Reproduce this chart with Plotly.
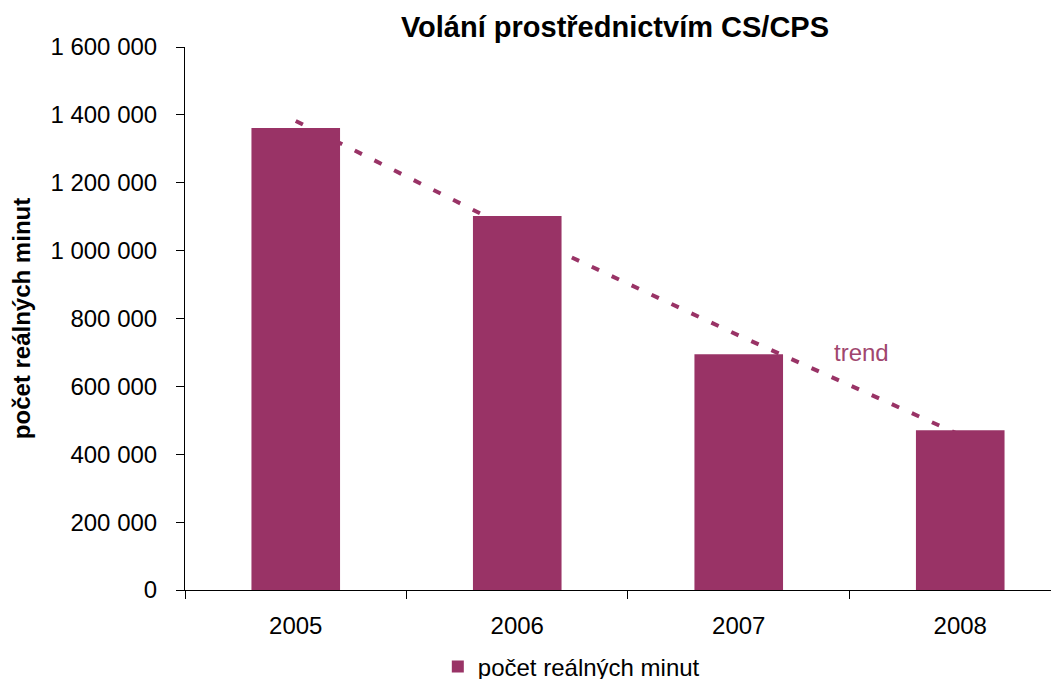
import plotly.graph_objects as go

years = ["2005", "2006", "2007", "2008"]
minutes = [1361000, 1102000, 695000, 471000]
trend = [1382000, 1055000, 750000, 457000]
series_name = "počet reálných minut"
title_text = "Volání prostřednictvím CS/CPS"
y_title = "počet reálných minut"
y_ticks = [0, 200000, 400000, 600000, 800000, 1000000, 1200000, 1400000, 1600000]

bar_color = "#993366"
font_family = "Liberation Sans, Arial, sans-serif"

fig = go.Figure()

# trend line on base axes (drawn beneath the bars)
fig.add_trace(go.Scatter(
    x=years, y=trend, mode="lines", xaxis="x", yaxis="y",
    line=dict(color=bar_color, width=4, dash="8px,14px"),
    showlegend=False, hoverinfo="skip",
))

# bars on overlaying axes so they sit on top of the trend
fig.add_trace(go.Bar(
    x=years, y=minutes, name=series_name, xaxis="x2", yaxis="y2",
    marker=dict(color=bar_color, line=dict(width=0)), width=0.4,
))

xr = [-0.5, 3.482]
yr = [0, 1600000]

fig.update_layout(
    width=1059, height=679,
    margin=dict(l=177, r=0, t=39, b=97, autoexpand=False),
    paper_bgcolor="white", plot_bgcolor="rgba(0,0,0,0)",
    separators=", ",
    font=dict(family=font_family, size=24, color="black"),
    title=dict(text="<b>" + title_text + "</b>", x=0.4875, xref="paper", xanchor="center",
               y=0.972, yref="container", yanchor="middle",
               font=dict(size=29, color="black")),
    xaxis=dict(type="category", range=xr, showline=True, linecolor="black", linewidth=1,
               ticks="outside", tickson="boundaries", ticklen=8, tickcolor="black",
               showgrid=False, zeroline=False, tickfont=dict(size=24), ticklabelstandoff=14),
    yaxis=dict(range=yr, tickvals=y_ticks, tickformat=",d", showline=True, linecolor="black",
               linewidth=1, ticks="outside", ticklen=8, tickcolor="black", showgrid=False,
               zeroline=False, tickfont=dict(size=24), ticklabelstandoff=14,
               title=dict(text="<b>" + y_title + "</b>", font=dict(size=24), standoff=14)),
    xaxis2=dict(type="category", range=xr, overlaying="x", visible=False, matches="x"),
    yaxis2=dict(range=yr, overlaying="y", visible=False, matches="y"),
    legend=dict(orientation="h", x=0.438, xanchor="center", y=-0.1418, yanchor="middle",
                font=dict(size=24), itemwidth=30),
    bargap=0.6,
    annotations=[dict(text="trend", x=2.556, y=701000, xref="x", yref="y",
                      showarrow=False, font=dict(size=24, color="#a0466e"))],
)

fig.write_html("out.html")
